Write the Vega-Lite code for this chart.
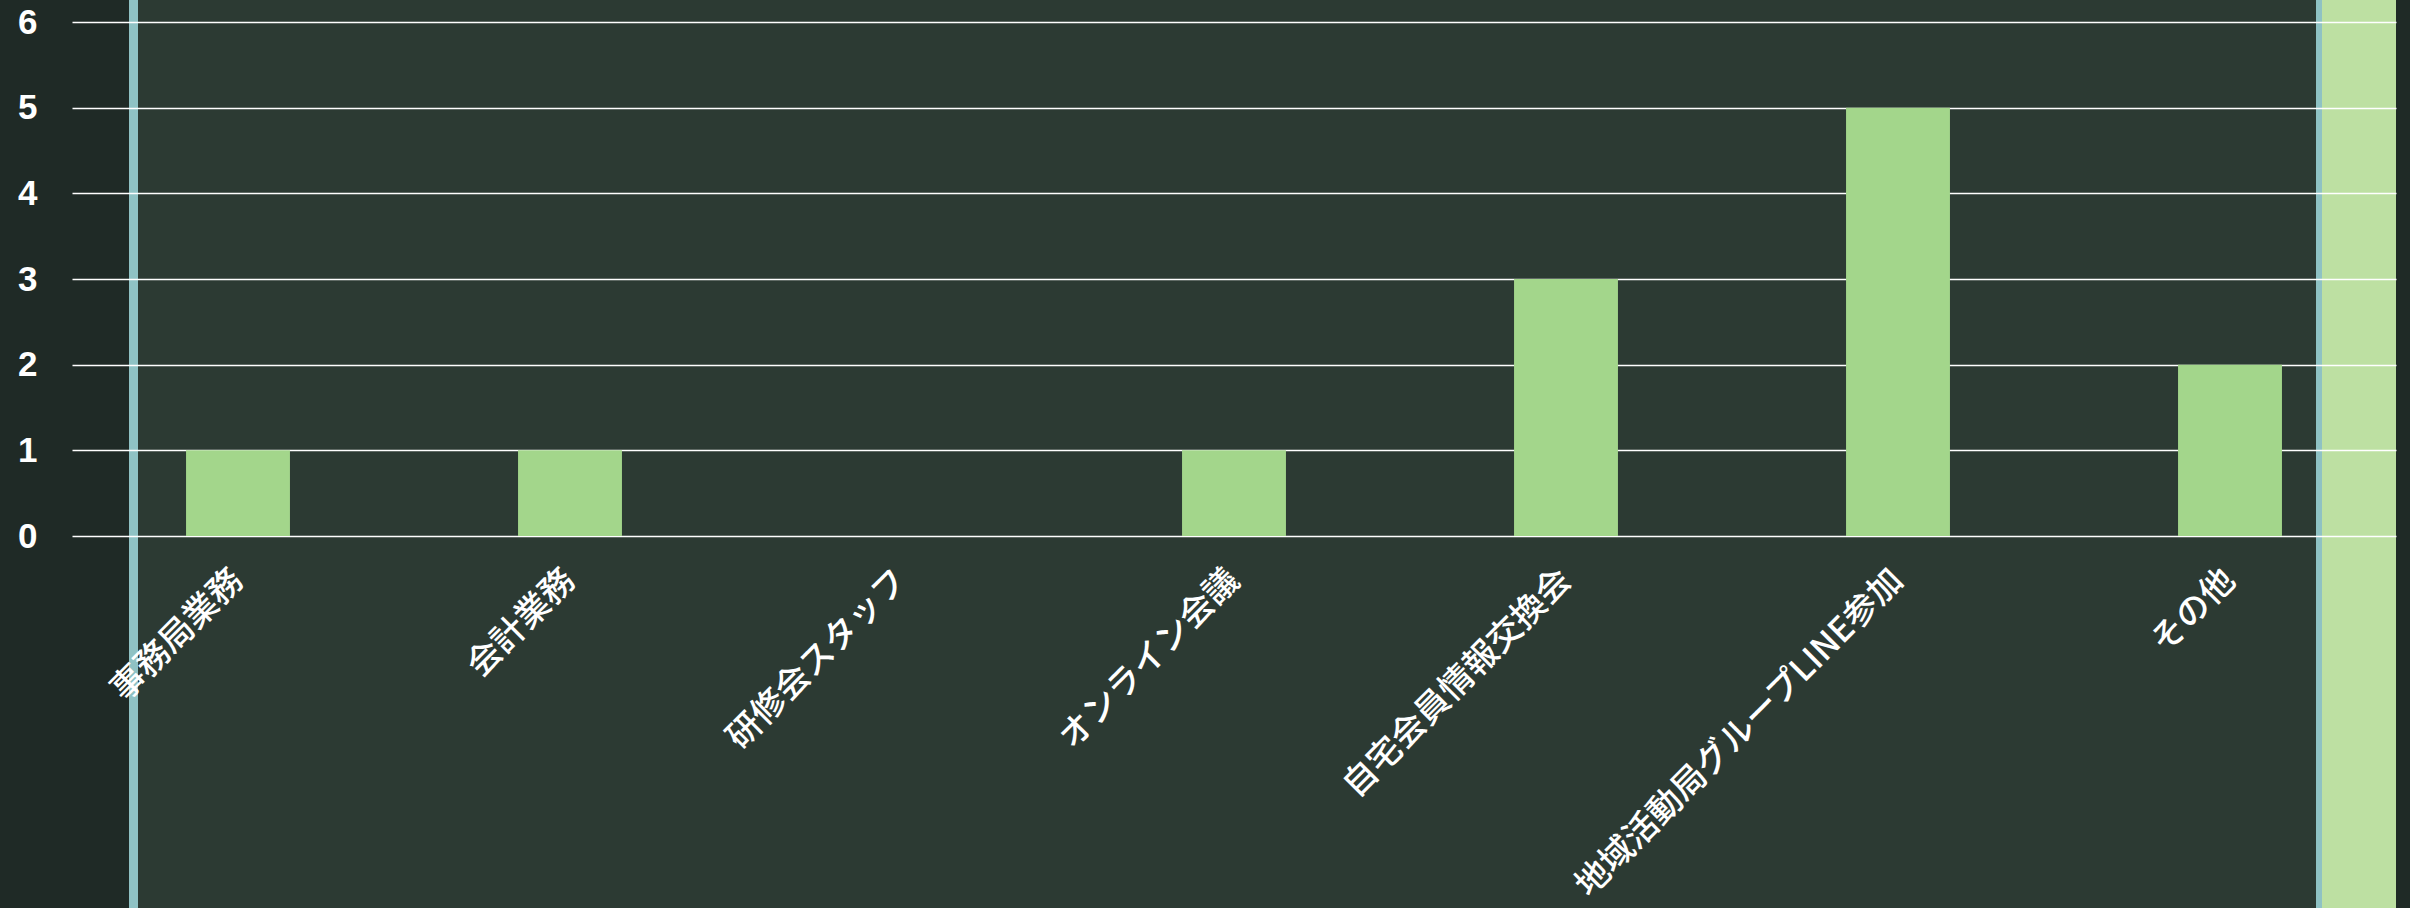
{
  "$schema": "https://vega.github.io/schema/vega-lite/v6.json",
  "width": 2324,
  "height": 908,
  "autosize": {"type": "none"},
  "padding": {"left": 72, "top": 0, "right": 14, "bottom": 0},
  "background": "#1f2a26",
  "data": {
    "values": [
      {"category": "事務局業務", "count": 1},
      {"category": "会計業務", "count": 1},
      {"category": "研修会スタッフ", "count": 0},
      {"category": "オンライン会議", "count": 1},
      {"category": "自宅会員情報交換会", "count": 3},
      {"category": "地域活動局グループLINE参加", "count": 5},
      {"category": "その他", "count": 2}
    ]
  },
  "mark": {"type": "bar", "color": "#a3d68b"},
  "encoding": {
    "x": {
      "field": "category",
      "type": "nominal",
      "sort": null,
      "scale": {"paddingInner": 0.687, "paddingOuter": 0.3435},
      "axis": {
        "title": null,
        "domain": false,
        "ticks": false,
        "tickSize": 0,
        "grid": false,
        "offset": -372,
        "labelAngle": -45,
        "labelAlign": "right",
        "labelBaseline": "middle",
        "labelPadding": 39,
        "labelFont": "Noto Sans CJK JP",
        "labelFontSize": 34,
        "labelFontWeight": 500,
        "labelColor": "#ffffff",
        "labelLimit": 0
      }
    },
    "y": {
      "field": "count",
      "type": "quantitative",
      "scale": {"domain": [-4.342, 6.257], "nice": false, "zero": false},
      "axis": {
        "title": null,
        "values": [0, 1, 2, 3, 4, 5, 6],
        "domain": false,
        "ticks": false,
        "tickSize": 0,
        "grid": true,
        "gridColor": "#ffffff",
        "gridWidth": 1.5,
        "gridOpacity": 1,
        "labelPadding": 35,
        "labelFont": "Liberation Sans",
        "labelFontSize": 35,
        "labelFontWeight": "bold",
        "labelColor": "#ffffff",
        "labelBaseline": "middle"
      }
    }
  },
  "config": {
    "view": {
      "stroke": null,
      "fill": {
        "gradient": "linear",
        "x1": 0, "y1": 0, "x2": 1, "y2": 0,
        "stops": [
          {"offset": 0, "color": "#1f2a26"},
          {"offset": 0.0245, "color": "#1f2a26"},
          {"offset": 0.0245, "color": "#8fc2c4"},
          {"offset": 0.0284, "color": "#8fc2c4"},
          {"offset": 0.0284, "color": "#2c3a33"},
          {"offset": 0.9656, "color": "#2c3a33"},
          {"offset": 0.9656, "color": "#8fc2c4"},
          {"offset": 0.9682, "color": "#8fc2c4"},
          {"offset": 0.9682, "color": "#bde0a2"},
          {"offset": 1, "color": "#bde0a2"}
        ]
      }
    }
  }
}
